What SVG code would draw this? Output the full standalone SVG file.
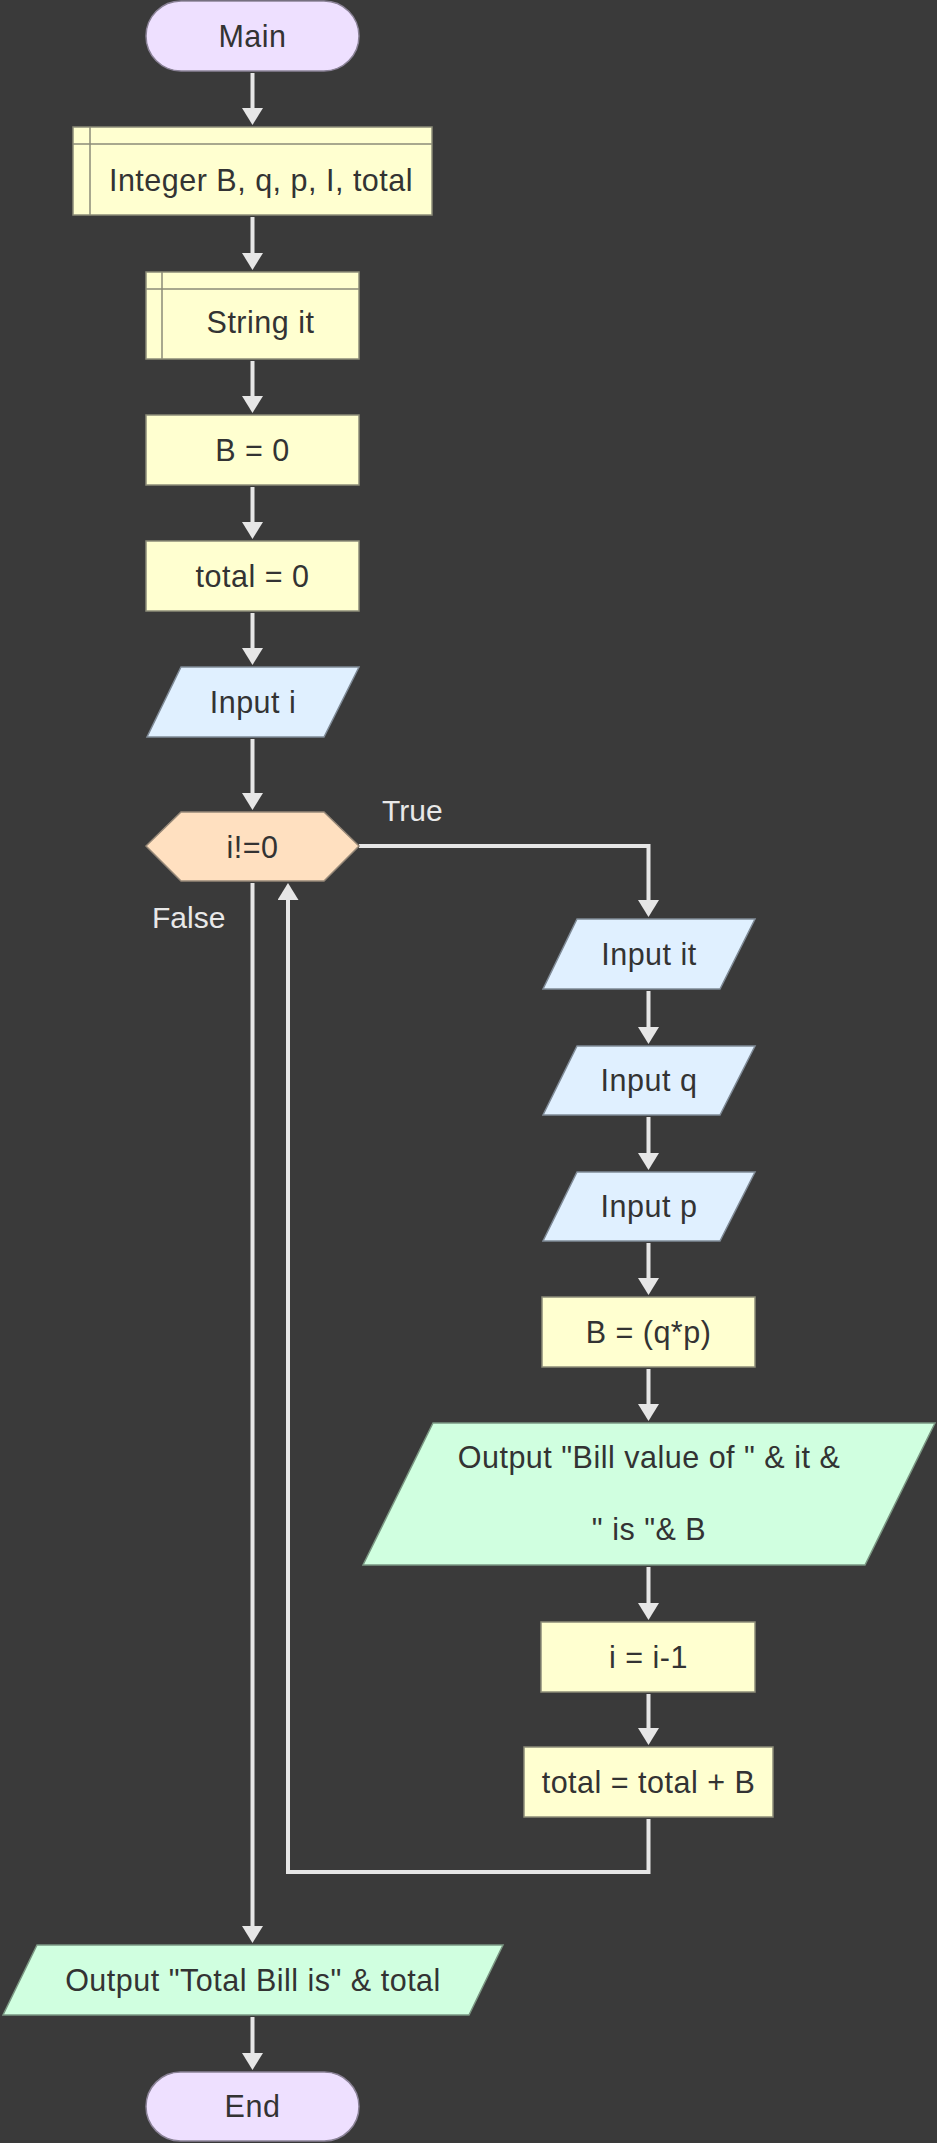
<svg xmlns="http://www.w3.org/2000/svg" width="937" height="2143" viewBox="0 0 937 2143">
<style>
.t{font-family:"Liberation Sans",Arial,sans-serif;font-size:30.5px;letter-spacing:0.5px;fill:#333333;text-anchor:middle}
.lbl{font-family:"Liberation Sans",Arial,sans-serif;font-size:30px;fill:#e8e8e8}
.term{fill:#eee0ff;stroke:#8a8296;stroke-width:1.5}
.proc{fill:#ffffd0;stroke:#8c8c78;stroke-width:1.5}
.inp{fill:#e0f0ff;stroke:#7f8a96;stroke-width:1.5}
.out{fill:#d0ffe0;stroke:#7a9682;stroke-width:1.5}
.dec{fill:#ffe0c0;stroke:#968878;stroke-width:1.5}
.conn{fill:none;stroke:#e6e6e6;stroke-width:4}
</style>
<defs>
<marker id="ah" markerUnits="userSpaceOnUse" markerWidth="17" markerHeight="21" viewBox="0 0 17 21" refX="1" refY="10.5" orient="auto">
<path d="M0,0 L17,10.5 L0,21 z" fill="#e6e6e6"/>
</marker>
</defs>
<rect x="0" y="0" width="937" height="2143" fill="#3a3a3a"/>
<g id="connectors">
<path class="conn" d="M252.5 73 V109" marker-end="url(#ah)"/>
<path class="conn" d="M252.5 217 V254" marker-end="url(#ah)"/>
<path class="conn" d="M252.5 361 V397" marker-end="url(#ah)"/>
<path class="conn" d="M252.5 487 V523" marker-end="url(#ah)"/>
<path class="conn" d="M252.5 613 V649" marker-end="url(#ah)"/>
<path class="conn" d="M252.5 739 V794" marker-end="url(#ah)"/>
<path class="conn" d="M359 846 H648.5 V901" marker-end="url(#ah)"/>
<path class="conn" d="M648.5 991 V1028" marker-end="url(#ah)"/>
<path class="conn" d="M648.5 1117 V1154" marker-end="url(#ah)"/>
<path class="conn" d="M648.5 1243 V1279" marker-end="url(#ah)"/>
<path class="conn" d="M648.5 1369 V1405" marker-end="url(#ah)"/>
<path class="conn" d="M648.5 1567 V1604" marker-end="url(#ah)"/>
<path class="conn" d="M648.5 1694 V1729" marker-end="url(#ah)"/>
<path class="conn" d="M648.5 1819 V1872 H288 V899" marker-end="url(#ah)"/>
<path class="conn" d="M252.5 883 V1927" marker-end="url(#ah)"/>
<path class="conn" d="M252.5 2017 V2054" marker-end="url(#ah)"/>
<text class="lbl" x="382" y="821">True</text>
<text class="lbl" x="152" y="928">False</text>
</g>
<g id="main">
<rect class="term" x="146" y="1" width="213" height="70" rx="35" ry="35"/>
<text class="t" x="252.5" y="47">Main</text>
</g>
<g id="declare-integer">
<rect class="proc" x="73" y="127" width="359" height="88"/>
<path class="proc" d="M90 127 V215 M73 144 H432" fill="none"/>
<text class="t" x="261" y="191">Integer B, q, p, I, total</text>
</g>
<g id="declare-string">
<rect class="proc" x="146" y="272" width="213" height="87"/>
<path class="proc" d="M162 272 V359 M146 289 H359" fill="none"/>
<text class="t" x="260.5" y="333">String it</text>
</g>
<g id="assign-b">
<rect class="proc" x="146" y="415" width="213" height="70"/>
<text class="t" x="252.5" y="461">B = 0</text>
</g>
<g id="assign-total">
<rect class="proc" x="146" y="541" width="213" height="70"/>
<text class="t" x="252.5" y="587">total = 0</text>
</g>
<g id="input-i">
<polygon class="inp" points="181,667 359,667 324,737 147,737"/>
<text class="t" x="253" y="713">Input i</text>
</g>
<g id="decision">
<polygon class="dec" points="146,846 181,812 324,812 359,846 324,881 181,881"/>
<text class="t" x="252.5" y="858">i!=0</text>
</g>
<g id="input-it">
<polygon class="inp" points="577,919 755,919 720,989 543,989"/>
<text class="t" x="649" y="965">Input it</text>
</g>
<g id="input-q">
<polygon class="inp" points="577,1046 755,1046 720,1115 543,1115"/>
<text class="t" x="649" y="1091">Input q</text>
</g>
<g id="input-p">
<polygon class="inp" points="577,1172 755,1172 720,1241 543,1241"/>
<text class="t" x="649" y="1217">Input p</text>
</g>
<g id="assign-bqp">
<rect class="proc" x="542" y="1297" width="213" height="70"/>
<text class="t" x="648.5" y="1343">B = (q*p)</text>
</g>
<g id="output-bill">
<polygon class="out" points="433,1423 935,1423 865,1565 363,1565"/>
<text class="t" x="649" y="1468">Output "Bill value of " &amp; it &amp;</text>
<text class="t" x="649" y="1540">" is "&amp; B</text>
</g>
<g id="assign-i">
<rect class="proc" x="541" y="1622" width="214" height="70"/>
<text class="t" x="648.5" y="1668">i = i-1</text>
</g>
<g id="assign-total2">
<rect class="proc" x="524" y="1747" width="249" height="70"/>
<text class="t" x="648.5" y="1793">total = total + B</text>
</g>
<g id="output-total">
<polygon class="out" points="37,1945 503,1945 469,2015 3,2015"/>
<text class="t" x="253" y="1991">Output "Total Bill is" &amp; total</text>
</g>
<g id="end">
<rect class="term" x="146" y="2072" width="213" height="69" rx="34.5" ry="34.5"/>
<text class="t" x="252.5" y="2117">End</text>
</g>
</svg>
